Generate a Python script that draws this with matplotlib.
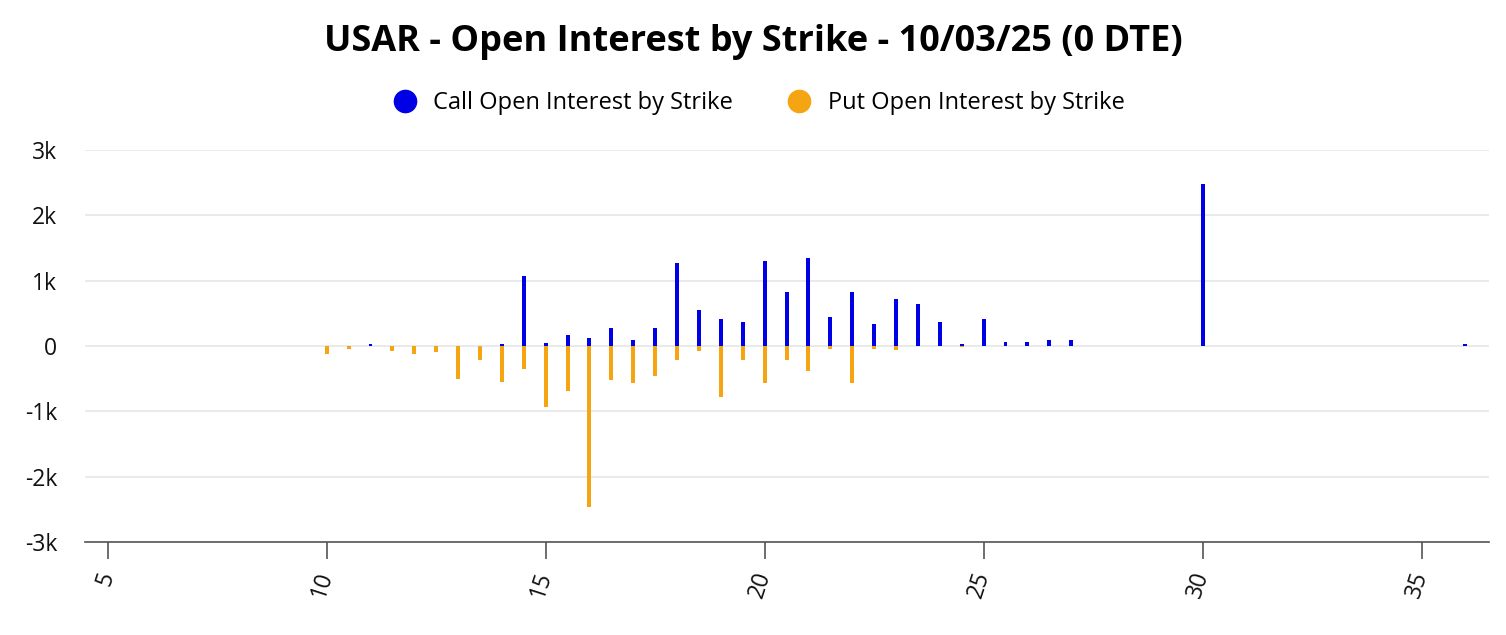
import matplotlib
matplotlib.use("Agg")
import matplotlib.pyplot as plt
from matplotlib.lines import Line2D
from matplotlib.ticker import FuncFormatter

plt.rcParams["font.family"] = ["Open Sans", "DejaVu Sans"]

TITLE = "USAR - Open Interest by Strike - 10/03/25 (0 DTE)"
CALL_LABEL = "Call Open Interest by Strike"
PUT_LABEL = "Put Open Interest by Strike"

strikes = [10, 10.5, 11, 11.5, 12, 12.5, 13, 13.5, 14, 14.5, 15, 15.5, 16, 16.5,
           17, 17.5, 18, 18.5, 19, 19.5, 20, 20.5, 21, 21.5, 22, 22.5, 23, 23.5,
           24, 24.5, 25, 25.5, 26, 26.5, 27, 30, 36]
call_oi = [0, 0, 30, 0, 0, 0, 0, 0, 30, 1070, 50, 170, 120, 280,
           90, 280, 1270, 550, 410, 370, 1300, 830, 1350, 440, 830, 340, 720, 640,
           370, 30, 410, 60, 60, 90, 90, 2480, 30]
put_oi = [130, 50, 0, 80, 120, 100, 510, 210, 550, 350, 930, 690, 2470, 520,
          570, 460, 210, 80, 780, 210, 570, 210, 380, 40, 570, 40, 70, 0,
          0, 20, 0, 0, 0, 0, 0, 0, 0]

CALL_COLOR = "#0000e6"
PUT_COLOR = "#f5a511"


def k_fmt(v, _pos):
    if v == 0:
        return "0"
    return f"{int(v / 1000)}k"


fig = plt.figure(figsize=(15.06, 6.35), dpi=100)
ax = fig.add_axes([0.0564, 0.1465, 0.9326, 0.6175])

ax.bar(strikes, call_oi, width=0.09, color=CALL_COLOR, zorder=3)
ax.bar(strikes, [-v for v in put_oi], width=0.09, color=PUT_COLOR, zorder=3)

ax.set_xlim(4.48, 36.55)
ax.set_ylim(-3000, 3000)
ax.set_yticks(range(-3000, 3001, 1000))
ax.yaxis.set_major_formatter(FuncFormatter(k_fmt))
ax.set_xticks(range(5, 36, 5))

ax.grid(axis="y", color="#e6e6e6", linewidth=1.2, zorder=0)
for side in ("top", "right", "left"):
    ax.spines[side].set_visible(False)
ax.spines["bottom"].set_color("#555555")
ax.spines["bottom"].set_linewidth(1.2)

ax.tick_params(axis="y", length=0, pad=20, labelsize=16.5, labelcolor="#111111")
ax.tick_params(axis="x", length=12, width=1.2, color="#555555", pad=10,
               labelsize=16.5, labelcolor="#111111")
for lbl in ax.get_xticklabels():
    lbl.set_rotation(72)
    lbl.set_ha("right")
    lbl.set_va("center")
    lbl.set_rotation_mode("anchor")

fig.suptitle(TITLE, y=0.962, fontsize=26, fontweight="bold")

handles = [
    Line2D([], [], marker="o", linestyle="", markersize=16,
           markerfacecolor=CALL_COLOR, markeredgecolor=CALL_COLOR, label=CALL_LABEL),
    Line2D([], [], marker="o", linestyle="", markersize=16,
           markerfacecolor=PUT_COLOR, markeredgecolor=PUT_COLOR, label=PUT_LABEL),
]
fig.legend(handles=handles, loc="center", bbox_to_anchor=(0.5, 0.838), ncol=2,
           frameon=False, fontsize=17, handletextpad=0.2, columnspacing=1.8)

fig.savefig("out.png", dpi=100)
